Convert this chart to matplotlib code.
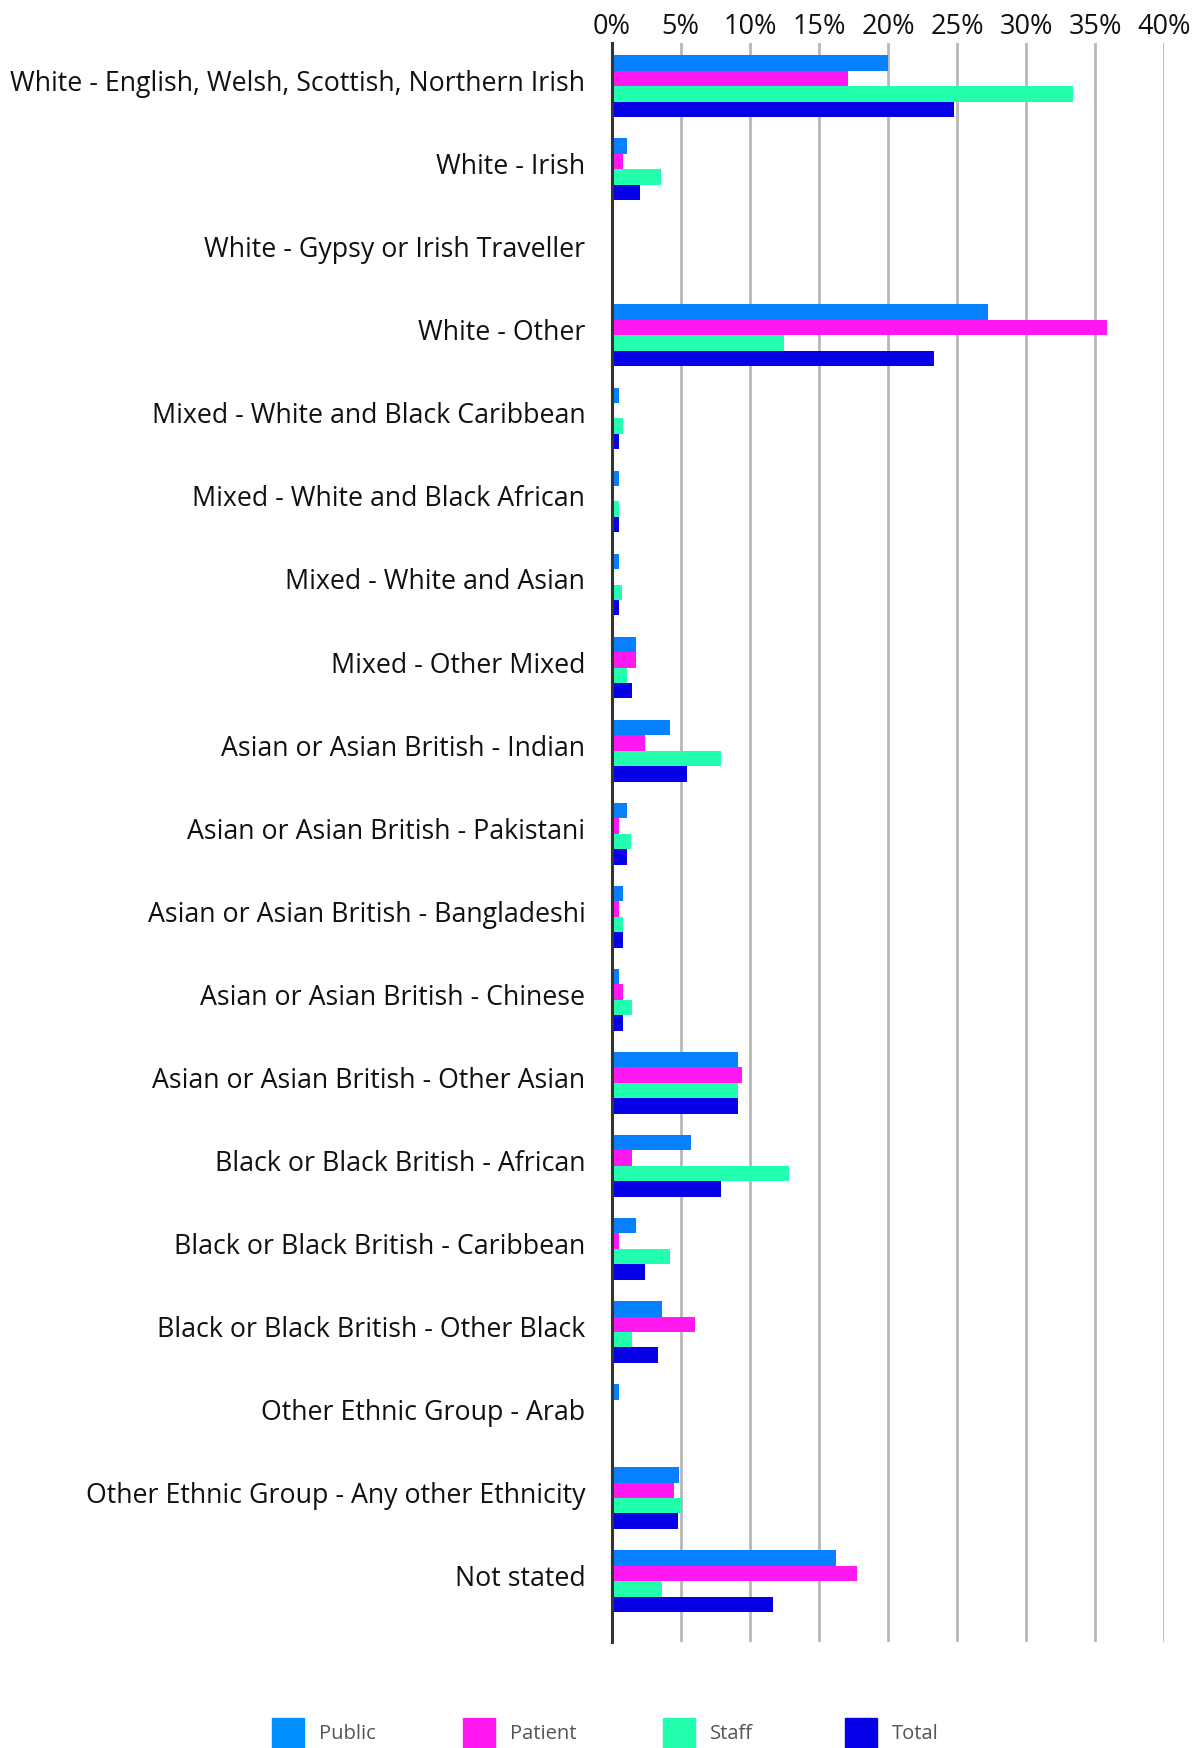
import matplotlib.pyplot as plt
from matplotlib.patches import Rectangle
from matplotlib.transforms import ScaledTranslation
import numpy as np

plt.rcParams['font.family'] = ['Open Sans', 'DejaVu Sans']

categories = [
    "White - English, Welsh, Scottish, Northern Irish",
    "White - Irish",
    "White - Gypsy or Irish Traveller",
    "White - Other",
    "Mixed - White and Black Caribbean",
    "Mixed - White and Black African",
    "Mixed - White and Asian",
    "Mixed - Other Mixed",
    "Asian or Asian British - Indian",
    "Asian or Asian British - Pakistani",
    "Asian or Asian British - Bangladeshi",
    "Asian or Asian British - Chinese",
    "Asian or Asian British - Other Asian",
    "Black or Black British - African",
    "Black or Black British - Caribbean",
    "Black or Black British - Other Black",
    "Other Ethnic Group - Arab",
    "Other Ethnic Group - Any other Ethnicity",
    "Not stated",
]

public = [20.0, 1.1, 0, 27.24, 0.53, 0.53, 0.53, 1.76, 4.22, 1.11, 0.82, 0.53,
          9.14, 5.74, 1.76, 3.64, 0.53, 4.87, 16.24]
patient = [17.1, 0.82, 0, 35.85, 0, 0, 0, 1.76, 2.41, 0.53, 0.53, 0.82,
           9.43, 1.47, 0.53, 6.03, 0, 4.51, 17.76]
staff = [33.4, 3.57, 0, 12.47, 0.82, 0.53, 0.75, 1.11, 7.91, 1.4, 0.82, 1.47,
         9.14, 12.83, 4.22, 1.47, 0, 5.09, 3.64]
total = [24.8, 2.05, 0, 23.33, 0.53, 0.53, 0.53, 1.47, 5.45, 1.11, 0.82, 0.82,
         9.14, 7.91, 2.41, 3.35, 0, 4.8, 11.68]

series = ["Public", "Patient", "Staff", "Total"]
values = [public, patient, staff, total]
colors = ["#0780ff", "#ff19f0", "#22ffae", "#0500e6"]
legend_colors = ["#0090ff", "#ff19f0", "#22ffae", "#0500e6"]

fig = plt.figure(figsize=(11.99, 17.48), dpi=100)
ax = fig.add_axes([0.5102, 0.0608, 0.4609, 0.9148])

y = np.arange(len(categories))
h = 0.186
for k, (name, vals, c) in enumerate(zip(series, values, colors)):
    ax.barh(y + (k - 1.5) * h, vals, height=h, color=c, label=name, zorder=3)

ax.set_xlim(0, 40)
ax.set_ylim(len(categories) - 1 + 0.73, -0.525)
ax.set_xticks(np.arange(0, 41, 5))
ax.set_xticklabels([f"{v}%" for v in range(0, 41, 5)])
ax.xaxis.tick_top()
ax.tick_params(axis='x', length=0, pad=1, labelsize=19.5, labelcolor='#111111')
ax.set_yticks(y)
ax.set_yticklabels(categories)
ax.tick_params(axis='y', length=0, pad=19, labelsize=19.3, labelcolor='#111111')
# nudge category labels up a little
lift = ScaledTranslation(0, 4 / 72, fig.dpi_scale_trans)
for lab in ax.get_yticklabels():
    lab.set_transform(lab.get_transform() + lift)

ax.grid(axis='x', color='#b8b8b8', linewidth=2, zorder=0)
ax.grid(axis='y', visible=False)
for s in ['top', 'right', 'bottom']:
    ax.spines[s].set_visible(False)
ax.spines['left'].set_color('#333333')
ax.spines['left'].set_linewidth(2.2)
ax.spines['left'].set_zorder(4)

# legend row along the bottom edge
W, H = 1199, 1748
lx = [272, 463, 663, 845]
for x0, name, c in zip(lx, series, legend_colors):
    fig.add_artist(Rectangle((x0 / W, 0), 32 / W, 30 / H, color=c,
                             transform=fig.transFigure))
    fig.text((x0 + 47) / W, 14 / H, name, fontsize=14.5, color='#555555',
             va='center', ha='left')

fig.savefig("out.png", dpi=100)
